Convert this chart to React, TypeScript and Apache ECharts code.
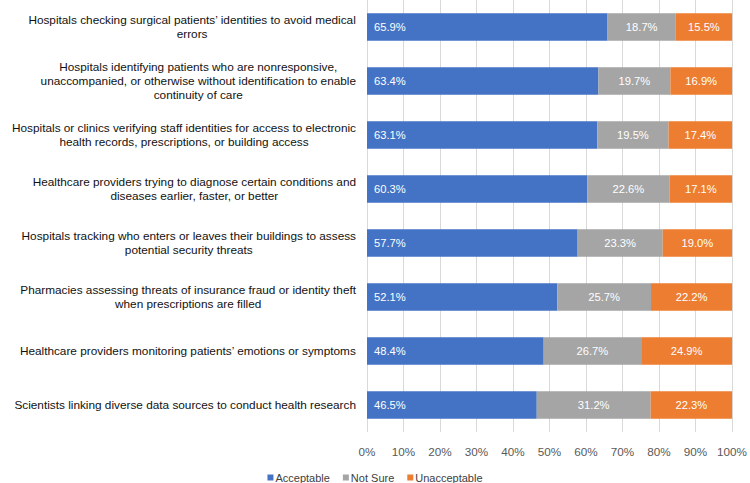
import React, { useEffect, useRef } from "react";
import * as echarts from "echarts";

const categories = [
  "Hospitals checking surgical patients’ identities to avoid medical\nerrors",
  "Hospitals identifying patients who are nonresponsive,\nunaccompanied, or otherwise without identification to enable\ncontinuity of care",
  "Hospitals or clinics verifying staff identities for access to electronic\nhealth records, prescriptions, or building access",
  "Healthcare providers trying to diagnose certain conditions and\ndiseases earlier, faster, or better",
  "Hospitals tracking who enters or leaves their buildings to assess\npotential security threats",
  "Pharmacies assessing threats of insurance fraud or identity theft\nwhen prescriptions are filled",
  "Healthcare providers monitoring patients’ emotions or symptoms",
  "Scientists linking diverse data sources to conduct health research",
];

const acceptable = [65.9, 63.4, 63.1, 60.3, 57.7, 52.1, 48.4, 46.5];
const notSure = [18.7, 19.7, 19.5, 22.6, 23.3, 25.7, 26.7, 31.2];
const unacceptable = [15.5, 16.9, 17.4, 17.1, 19.0, 22.2, 24.9, 22.3];

const seriesNames = ["Acceptable", "Not Sure", "Unacceptable"];
const seriesColors = ["#4472C4", "#A5A5A5", "#ED7D31"];

const FONT = "Liberation Sans, Arial, sans-serif";

export default function App() {
  const ref = useRef<HTMLDivElement>(null);

  useEffect(() => {
    if (!ref.current) return;
    const chart = echarts.init(ref.current, undefined, { renderer: "svg" });
    const dataSets = [acceptable, notSure, unacceptable];
    chart.setOption({
      animation: false,
      textStyle: { fontFamily: FONT },
      grid: { left: 367, right: 17, top: 0, bottom: 51, containLabel: false },
      legend: {
        data: seriesNames,
        bottom: 0,
        padding: [0, 0, 0, 0],
        left: "center",
        icon: "rect",
        itemWidth: 6,
        itemHeight: 6,
        itemGap: 13,
        textStyle: { fontSize: 11, color: "#404040", padding: [0, 0, 0, -3], fontFamily: FONT },
      },
      xAxis: {
        type: "value",
        min: 0,
        max: 100,
        interval: 10,
        axisLine: { show: false },
        axisTick: { show: false },
        splitLine: { show: true, lineStyle: { color: "#D9D9D9", width: 1 } },
        axisLabel: {
          formatter: (v: number) => `${v}%`,
          fontSize: 11.7,
          color: "#595959",
          margin: 13,
          fontFamily: FONT,
        },
      },
      yAxis: {
        type: "category",
        data: categories,
        inverse: true,
        axisLine: { show: false },
        axisTick: { show: false },
        axisLabel: {
          align: "right",
          margin: 11,
          formatter: (v: string) =>
            v
              .split("\n")
              .map((l) => `{c|${l}}`)
              .join("\n"),
          rich: {
            c: {
              align: "center",
              fontSize: 11.8,
              lineHeight: 14,
              color: "#111111",
              fontFamily: FONT,
            },
          },
        },
      },
      series: seriesNames.map((name, i) => ({
        name,
        type: "bar",
        stack: "total",
        barWidth: "51%",
        data: dataSets[i],
        itemStyle: { color: seriesColors[i] },
        label: {
          show: true,
          position: i === 0 ? "insideLeft" : "inside",
          distance: 7,
          color: "#FFFFFF",
          fontSize: 11.2,
          fontFamily: FONT,
          formatter: (p: any) => `${Number(p.value).toFixed(1)}%`,
        },
      })),
    });
    return () => chart.dispose();
  }, []);

  return (
    <div
      ref={ref}
      style={{ position: "absolute", left: 0, top: 0, width: 750, height: 483 }}
    />
  );
}
